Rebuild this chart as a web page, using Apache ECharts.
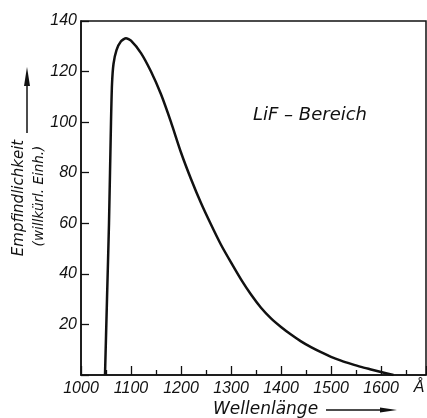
<!DOCTYPE html>
<html>
<head>
<meta charset="utf-8">
<script src="https://cdn.jsdelivr.net/npm/echarts@6/dist/echarts.min.js"></script>
<style>
html,body{margin:0;padding:0;background:#fff;}
#chart{width:427px;height:418px;}
</style>
</head>
<body>
<div id="chart"></div>
<script>
const wavelength = [1048,1052,1056,1060,1062,1065,1071,1080,1090,1100,1120,1140,1160,1180,1200,1220,1240,1260,1280,1300,1320,1340,1360,1380,1400,1420,1440,1460,1480,1500,1520,1540,1560,1580,1600,1625];
const sensitivity = [0,30,60,100,115,123,128.5,132,133.2,132.2,127.3,120,111,100,88,77.5,68,59.5,51.5,44.5,37.8,31.8,26.6,22.4,19,16,13.3,11,9,7.2,5.7,4.4,3.2,2.2,1.2,0];
const xTitle = 'Wellenlänge';
const yTitle1 = 'Empfindlichkeit';
const yTitle2 = '(willkürl. Einh.)';
const annotation = 'LiF – Bereich';
const unitLabel = 'Å';

const ink = '#111';
const chart = echarts.init(document.getElementById('chart'));
chart.setOption({
  animation: false,
  backgroundColor: '#fff',
  grid: {left: 81, top: 21, right: 1, bottom: 43, show: true, borderColor: ink, borderWidth: 1.5},
  xAxis: {
    type: 'value', min: 1000, max: 1690, interval: 100,
    axisLine: {show: true, lineStyle: {color: ink, width: 1.5}},
    axisTick: {show: true, inside: true, length: 9, lineStyle: {color: ink, width: 1.3}},
    minorTick: {show: true, splitNumber: 2, length: 5, lineStyle: {color: ink, width: 1.3}},
    splitLine: {show: false},
    axisLabel: {showMaxLabel: false, color: ink, fontStyle: 'italic', fontFamily: '"Liberation Sans"', fontSize: 16, margin: 6,
      formatter: v => String(v)}
  },
  yAxis: {
    type: 'value', min: 0, max: 140, interval: 20,
    axisLine: {show: true, lineStyle: {color: ink, width: 1.5}},
    axisTick: {show: true, inside: true, length: 8, lineStyle: {color: ink, width: 1.3}},
    splitLine: {show: false},
    axisLabel: {color: ink, fontStyle: 'italic', fontFamily: '"Liberation Sans"', fontSize: 16, margin: 4,
      formatter: v => v === 0 ? '' : String(v)}
  },
  series: [{
    type: 'line',
    data: wavelength.map((w, i) => [w, sensitivity[i]]),
    smooth: 0.2,
    showSymbol: false,
    lineStyle: {color: ink, width: 2.5}
  }],
  graphic: [
    {type: 'text', left: 253, top: 106, style: {text: annotation, fill: ink, font: 'italic 18px "DejaVu Sans"'}},
    {type: 'text', x: 419, y: 388, style: {text: unitLabel, fill: ink, font: 'italic 16px "Liberation Sans"', textAlign: 'center', textVerticalAlign: 'middle'}},
    {type: 'text', x: 213, y: 410, style: {text: xTitle, fill: ink, font: 'italic 17px "DejaVu Sans"', textAlign: 'left', textVerticalAlign: 'middle'}},
    {type: 'line', shape: {x1: 326, y1: 410, x2: 385, y2: 410}, style: {stroke: ink, lineWidth: 1.5}},
    {type: 'polygon', shape: {points: [[397, 410], [380, 407.5], [380, 412.5]]}, style: {fill: ink}},
    {type: 'text', x: 19, y: 198, rotation: Math.PI / 2, style: {text: yTitle1, fill: ink, font: 'italic 15px "DejaVu Sans"', textAlign: 'center', textVerticalAlign: 'middle'}},
    {type: 'text', x: 39, y: 196, rotation: Math.PI / 2, style: {text: yTitle2, fill: ink, font: 'italic 13.5px "DejaVu Sans"', textAlign: 'center', textVerticalAlign: 'middle'}},
    {type: 'line', shape: {x1: 27, y1: 133, x2: 27, y2: 80}, style: {stroke: ink, lineWidth: 1.5}},
    {type: 'polygon', shape: {points: [[27, 67], [24, 86], [30, 86]]}, style: {fill: ink}}
  ]
});
</script>
</body>
</html>
